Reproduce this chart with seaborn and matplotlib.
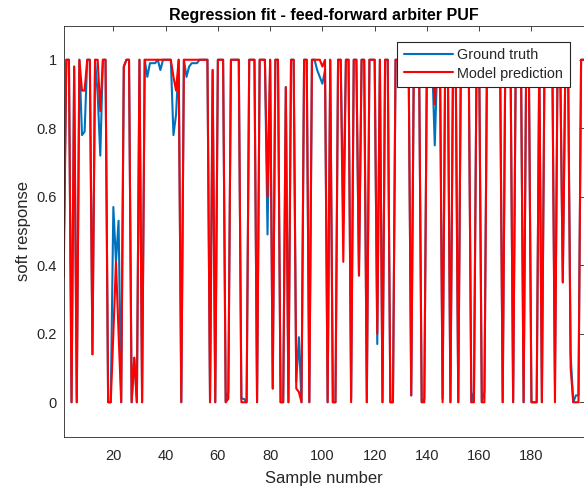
import matplotlib
matplotlib.use("Agg")
import matplotlib.pyplot as plt
import numpy as np
import pandas as pd
import seaborn as sns

# Soft responses of the feed-forward arbiter PUF, sample by sample
samples = list(range(1, 201))

prediction = [
    0.365, 1, 1, 0, 0.98, 0, 1, 0.91, 0.91, 1,
    1, 0.14, 1, 1, 0.85, 1, 1, 0, 0, 0.2,
    0.41, 0.2, 0, 0.98, 1, 1, 0, 0.13, 0, 1,
    0, 1, 1, 1, 1, 1, 1, 1, 1, 1,
    1, 1, 0.95, 0.91, 1, 0, 1, 1, 1, 1,
    1, 1, 1, 1, 1, 1, 0, 0.97, 0, 1,
    1, 1, 0, 0.01, 1, 1, 1, 1, 0, 0,
    0, 1, 1, 1, 0, 1, 1, 1, 0.6, 1,
    0.04, 1, 1, 0, 0, 0.92, 0, 1, 1, 0.04,
    0.03, 0, 1, 1, 0, 1, 1, 1, 1, 0.98,
    1, 0, 1, 0, 0, 1, 1, 0.41, 1, 1,
    0, 1, 1, 0.37, 1, 1, 0, 1, 1, 1,
    0.2, 1, 0, 1, 1, 0, 0, 1, 1, 1,
    1, 1, 1, 0.02, 1, 1, 1, 0, 0, 1,
    1, 1, 0.87, 1, 1, 0, 1, 1, 0, 1,
    1, 0, 1, 1, 1, 1, 0, 0, 1, 1,
    0, 0, 1, 1, 1, 1, 1, 1, 0, 1,
    1, 1, 0, 1, 1, 1, 0, 1, 1, 0,
    0, 0, 1, 0, 1, 1, 1, 1, 0, 1,
    1, 0.35, 1, 1, 0.1, 0, 0, 0, 1, 1,
]

ground_truth = [
    0.43, 1, 1, 0, 0.98, 0, 1, 0.78, 0.79, 1,
    1, 0.14, 1, 0.9, 0.72, 1, 1, 0, 0, 0.57,
    0.41, 0.53, 0, 0.98, 1, 1, 0, 0.13, 0, 1,
    0, 1, 0.95, 0.99, 0.99, 0.99, 1, 0.97, 1, 1,
    1, 1, 0.78, 0.84, 1, 0, 1, 0.95, 0.98, 0.99,
    0.99, 0.99, 1, 1, 1, 1, 0, 0.97, 0, 1,
    1, 1, 0, 0.03, 1, 1, 1, 1, 0.01, 0.01,
    0, 1, 1, 1, 0, 1, 1, 1, 0.49, 1,
    0.04, 1, 1, 0, 0, 0.92, 0, 1, 1, 0.06,
    0.19, 0, 1, 1, 0, 1, 1, 0.97, 0.95, 0.93,
    0.97, 0, 1, 0, 0, 1, 1, 0.55, 1, 1,
    0.01, 1, 1, 0.37, 1, 1, 0, 1, 1, 1,
    0.17, 1, 0, 1, 1, 0, 0, 1, 1, 1,
    1, 1, 1, 0.02, 1, 1, 1, 0, 0.01, 1,
    1, 1, 0.75, 1, 1, 0.01, 1, 1, 0, 1,
    1, 0, 1, 1, 1, 1, 0, 0.03, 1, 1,
    0, 0.03, 1, 1, 1, 1, 1, 1, 0, 1,
    1, 1, 0, 1, 1, 1, 0, 1, 1, 0,
    0, 0, 1, 0, 1, 1, 1, 1, 0.05, 1,
    1, 0.35, 1, 1, 0.14, 0, 0.02, 0.02, 1, 1,
]

x_ticks = [20, 40, 60, 80, 100, 120, 140, 160, 180]
y_ticks = [0, 0.2, 0.4, 0.6, 0.8, 1]
y_tick_labels = ["0", "0.2", "0.4", "0.6", "0.8", "1"]

df = pd.DataFrame({"sample": samples,
                   "Ground truth": ground_truth,
                   "Model prediction": prediction})

sns.set_theme(style="white")
plt.rcParams["font.family"] = ["Liberation Sans", "DejaVu Sans"]
axis_col = "#262626"

fig = plt.figure(figsize=(5.84, 4.93), dpi=100)
ax = fig.add_axes([63.7 / 584, 1 - 436.5 / 493, 520 / 584, 411 / 493])

sns.lineplot(data=df, x="sample", y="Ground truth", color="#0072BD",
             linewidth=1.5, label="Ground truth", ax=ax)
sns.lineplot(data=df, x="sample", y="Model prediction", color="#FF0000",
             linewidth=1.5, label="Model prediction", ax=ax)

ax.set_xlim(1, 200)
ax.set_ylim(-0.1, 1.1)
ax.set_xticks(x_ticks)
ax.set_xticklabels([str(t) for t in x_ticks])
ax.set_yticks(y_ticks)
ax.set_yticklabels(y_tick_labels)

ax.tick_params(direction="in", length=3.6, width=0.6, colors=axis_col,
               labelsize=10.5, top=True, right=True)
ax.tick_params(axis="x", pad=9)
ax.tick_params(axis="y", pad=5)
for side in ax.spines.values():
    side.set_color(axis_col)
    side.set_linewidth(0.6)

ax.set_xlabel("Sample number", fontsize=12, color=axis_col, labelpad=6)
ax.set_ylabel("soft response", fontsize=12, color=axis_col, labelpad=4)
ax.set_title("Regression fit - feed-forward arbiter PUF", fontsize=11.5,
             fontweight="bold", color="black", pad=4)

leg = ax.legend(loc="upper right", bbox_to_anchor=(0.973, 0.9606),
                fontsize=10.4, frameon=True, fancybox=False, framealpha=1,
                edgecolor=axis_col, handlelength=3.4, handletextpad=0.3,
                borderpad=0.45, labelspacing=0.3, borderaxespad=0)
leg.get_frame().set_linewidth(0.8)

fig.savefig("out.png", dpi=100)
